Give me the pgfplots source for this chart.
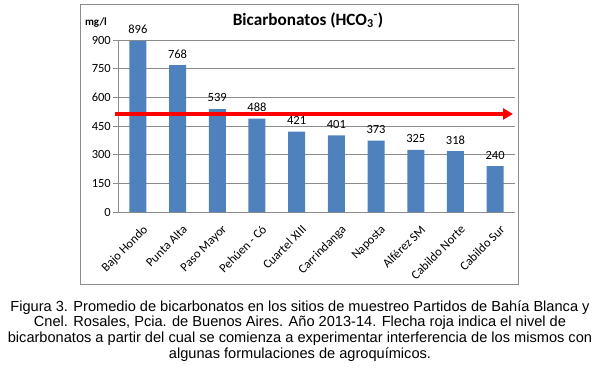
\documentclass[border=0pt]{standalone}
\usepackage{pgfplots}
\pgfplotsset{compat=1.18}
\usepackage{fontspec}
\setmainfont{Carlito}
\newfontfamily\arial{Liberation Sans}
\usetikzlibrary{arrows.meta}
\definecolor{barblue}{HTML}{4F81BD}
\definecolor{gridgray}{HTML}{8C8C8C}
\begin{document}
\begin{tikzpicture}[x=1pt,y=1pt]
\useasboundingbox (0pt,0pt) rectangle (600pt,-370pt);
\draw[gridgray, line width=1pt] (80pt,-4pt) rectangle (518pt,-284pt);
\begin{axis}[
  at={(118pt,-212pt)}, anchor=south west,
  width=397pt, height=172pt, scale only axis,
  xmin=-0.5, xmax=9.5, ymin=0, ymax=900,
  ytick={0,150,...,900},
  xtick={0,...,9},
  xticklabels={Bajo Hondo,Punta Alta,Paso Mayor,Pehúen - Có,Cuartel XIII,Carrindanga,Naposta,Alférez SM,Cabildo Norte,Cabildo Sur},
  xticklabel style={rotate=45, anchor=north east, font=\fontsize{12.5}{14}\selectfont, inner sep=1pt, xshift=-1pt, yshift=-7pt},
  yticklabel style={font=\fontsize{12.5}{14}\selectfont, inner sep=2pt},
  /pgf/number format/assume math mode=true,
  extra x ticks={-0.5,0.5,...,9.5}, extra x tick labels={},
  extra x tick style={major tick length=5pt, tick style={gridgray, line width=0.8pt}, tick align=outside, grid=none},
  major x tick style={draw=none},
  major tick length=5pt,
  y tick style={gridgray, line width=0.8pt},
  tick align=outside,
  ymajorgrids, grid style={gridgray, line width=0.8pt},
  axis x line*=bottom, axis y line*=left,
  axis line style={gridgray, line width=0.8pt},
  x axis line style={-}, y axis line style={-},
  clip=false,
  nodes near coords,
  every node near coord/.append style={font=\fontsize{12.5}{14}\selectfont, yshift=3.5pt},
]
\addplot[ybar, bar width=17pt, fill=barblue, draw=none] coordinates {
(0,896) (1,768) (2,539) (3,488) (4,421) (5,401) (6,373) (7,325) (8,318) (9,240)};
\draw[red, line width=3.5pt, -{Triangle[length=10pt,width=11pt]}] (axis cs:-0.58,513) -- (axis cs:9.45,513);
\end{axis}
\node[font=\bfseries\fontsize{17.2}{19}\selectfont] at (308pt,-20pt) {Bicarbonatos (HCO\textsubscript{3}\textsuperscript{-})};
\node[font=\bfseries\fontsize{11}{12}\selectfont] at (96pt,-23pt) {mg/l};
\node[font=\arial\fontsize{14.6}{15.6}\selectfont, align=center, anchor=north] at (300pt,-297pt) {Figura 3. Promedio de bicarbonatos en los sitios de muestreo Partidos de Bahía Blanca y\\Cnel. Rosales, Pcia. de Buenos Aires. Año 2013-14. Flecha roja indica el nivel de\\bicarbonatos a partir del cual se comienza a experimentar interferencia de los mismos con\\algunas formulaciones de agroquímicos.};
\end{tikzpicture}
\end{document}
